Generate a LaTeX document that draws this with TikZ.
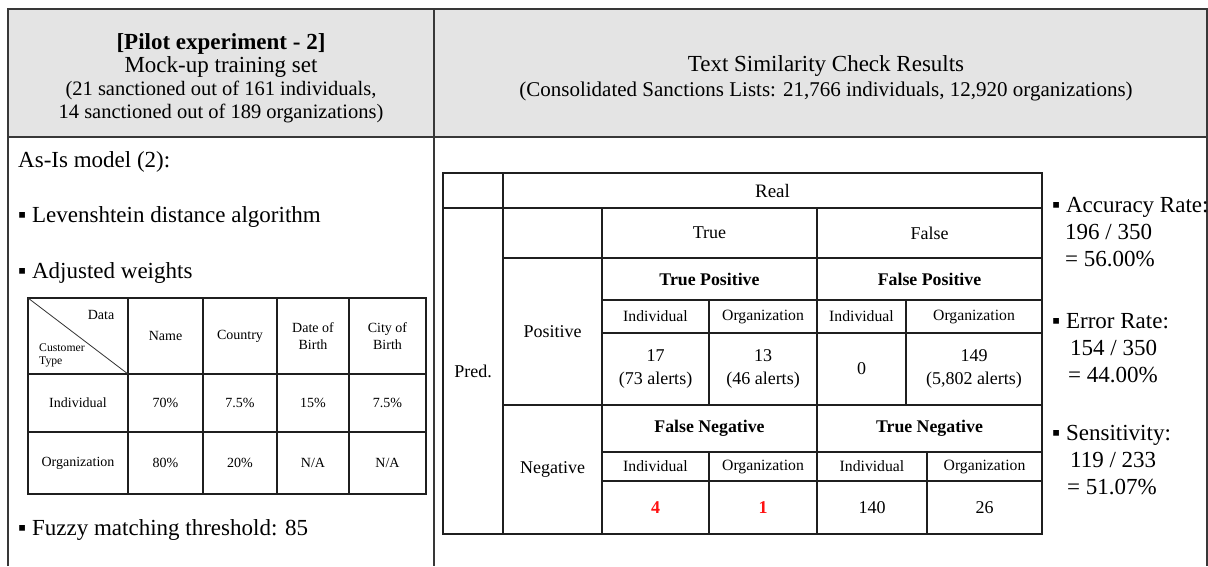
\documentclass[tikz,border=0pt]{standalone}
\usepackage{fontspec}
\setmainfont{Liberation Serif}
\newcommand{\fsz}[2]{\fontsize{#1}{#2}\selectfont}
\definecolor{hdrgray}{HTML}{E4E4E4}
\definecolor{alertred}{HTML}{FF1010}
\begin{document}
\begin{tikzpicture}[x=1pt,y=-1pt,
  frameline/.style={draw=black!78, line width=1.4pt},
  gridline/.style={draw=black!88, line width=1.3pt},
  big/.style={font=\fsz{23}{27}, inner sep=0},
  bigbold/.style={font=\bfseries\fsz{23}{27}, inner sep=0},
  sub/.style={font=\fsz{20.5}{24}, inner sep=0},
  wcell/.style={font=\fsz{14}{17}, align=center, inner sep=0},
  wsmall/.style={font=\fsz{11.7}{14}, inner sep=0},
  ccell/.style={font=\fsz{18}{23}, align=center, inner sep=0},
  cbold/.style={font=\bfseries\fsz{17.8}{22}, inner sep=0},
  csub/.style={font=\fsz{15.7}{19}, inner sep=0},
  cred/.style={font=\bfseries\fsz{18}{22}, text=alertred, inner sep=0}
]
\useasboundingbox (0,0) rectangle (1208,566);
\fill[white] (0,0) rectangle (1208,566);
% header band
\fill[hdrgray] (8,9) rectangle (1207,137);
\draw[frameline] (8,566) -- (8,9) -- (1207,9) -- (1207,566);
\draw[frameline] (8,137) -- (1207,137);
\draw[frameline] (434,9) -- (434,566);

% left header
\node[bigbold, anchor=base] (ht1) at (221,49) {[Pilot experiment - 2]};
\node[big, anchor=base] (ht2) at (221,72) {Mock-up training set};
\node[sub, anchor=base] (ht3) at (221,95) {(21 sanctioned out of 161 individuals,};
\node[sub, anchor=base] (ht4) at (221,118) {14 sanctioned out of 189 organizations)};
% right header
\node[big, anchor=base] (hr1) at (826,71) {Text Similarity Check Results};
\node[font=\fsz{21}{25}, inner sep=0, anchor=base] (hr2) at (826,96) {(Consolidated Sanctions Lists: 21,766 individuals, 12,920 organizations)};

% left body
\node[big, anchor=base west] (asis) at (18,167) {As-Is model (2):};
\node[big, anchor=base west] (lev) at (18,222) {▪ Levenshtein distance algorithm};
\node[big, anchor=base west] (adj) at (18,278) {▪ Adjusted weights};
\node[big, anchor=base west] (fuz) at (18,535) {▪ Fuzzy matching threshold: 85};

% weights table
\draw[gridline] (28,298) rectangle (426,494);
\foreach \xx in {128,203,277,349} \draw[gridline] (\xx,298) -- (\xx,494);
\foreach \yy in {374,432} \draw[gridline] (28,\yy) -- (426,\yy);
\draw[draw=black!80, line width=0.8pt] (28,298) -- (128,374);
\node[wcell, anchor=base] (wdata) at (101,319) {Data};
\node[wsmall, anchor=base west] (wcust) at (39,351) {Customer};
\node[wsmall, anchor=base west] (wtype) at (39,364) {Type};
\node[wcell] (wname) at (165.5,336) {Name};
\node[wcell] (wcountry) at (240,336) {Country};
\node[wcell] (wdob) at (313,336) {Date of\\Birth};
\node[wcell] (wcob) at (387.5,336) {City of\\Birth};
\node[wcell] (wind) at (78,403) {Individual};
\node[wcell] (w1) at (165.5,403) {70\%};
\node[wcell] (w2) at (240,403) {7.5\%};
\node[wcell] (w3) at (313,403) {15\%};
\node[wcell] (w4) at (387.5,403) {7.5\%};
\node[wcell] (worg) at (78,463) {Organization};
\node[wcell] (w5) at (165.5,463) {80\%};
\node[wcell] (w6) at (240,463) {20\%};
\node[wcell] (w7) at (313,463) {N/A};
\node[wcell] (w8) at (387.5,463) {N/A};

% confusion table
\draw[gridline] (443,173) rectangle (1042,534);
\draw[gridline] (503,173) -- (503,534);
\draw[gridline] (443,208) -- (1042,208);
\draw[gridline] (602,208) -- (602,534);
\draw[gridline] (503,258) -- (1042,258);
\draw[gridline] (817,208) -- (817,534);
\draw[gridline] (602,300) -- (1042,300);
\draw[gridline] (602,333) -- (1042,333);
\draw[gridline] (709,300) -- (709,405);
\draw[gridline] (906,300) -- (906,405);
\draw[gridline] (503,405) -- (1042,405);
\draw[gridline] (602,452) -- (1042,452);
\draw[gridline] (602,481) -- (1042,481);
\draw[gridline] (709,452) -- (709,534);
\draw[gridline] (927,452) -- (927,534);

\node[ccell, font=\fsz{19}{23}] (real) at (772.5,190.5) {Real};
\node[ccell] (pred) at (473,371) {Pred.};
\node[ccell] (ctrue) at (709.5,233) {True};
\node[ccell] (cfalse) at (929.5,233) {False};
\node[ccell] (cpos) at (552.5,331.5) {Positive};
\node[ccell] (cneg) at (552.5,469.5) {Negative};
\node[cbold] (tp) at (709.5,279) {True Positive};
\node[cbold] (fp) at (929.5,279) {False Positive};
\node[csub] (tpi) at (655.5,316.5) {Individual};
\node[csub] (tpo) at (763,316.5) {Organization};
\node[csub] (fpi) at (861.5,316.5) {Individual};
\node[csub] (fpo) at (974,316.5) {Organization};
\node[ccell] (tpin) at (655.5,369) {17\\(73 alerts)};
\node[ccell] (tpon) at (763,369) {13\\(46 alerts)};
\node[ccell] (fpin) at (861.5,369) {0};
\node[ccell] (fpon) at (974,369) {149\\(5,802 alerts)};
\node[cbold] (fn) at (709.5,428.5) {False Negative};
\node[cbold] (tn) at (929.5,428.5) {True Negative};
\node[csub] (fni) at (655.5,466.5) {Individual};
\node[csub] (fno) at (763,466.5) {Organization};
\node[csub] (tni) at (872,466.5) {Individual};
\node[csub] (tno) at (984.5,466.5) {Organization};
\node[cred] (fnin) at (655.5,507.5) {4};
\node[cred] (fnon) at (763,507.5) {1};
\node[ccell] (tnin) at (872,507.5) {140};
\node[ccell] (tnon) at (984.5,507.5) {26};

% right metrics
\node[big, anchor=base west] (acc) at (1052,212) {▪ Accuracy Rate:};
\node[big, anchor=base west] (acc2) at (1065,239) {196 / 350};
\node[big, anchor=base west] (acc3) at (1065,266) {= 56.00\%};
\node[big, anchor=base west] (err) at (1052,328) {▪ Error Rate:};
\node[big, anchor=base west] (err2) at (1070,355) {154 / 350};
\node[big, anchor=base west] (err3) at (1068,382) {= 44.00\%};
\node[big, anchor=base west] (sen) at (1052,440) {▪ Sensitivity:};
\node[big, anchor=base west] (sen2) at (1070,467) {119 / 233};
\node[big, anchor=base west] (sen3) at (1067,494) {= 51.07\%};
\end{tikzpicture}
\end{document}
